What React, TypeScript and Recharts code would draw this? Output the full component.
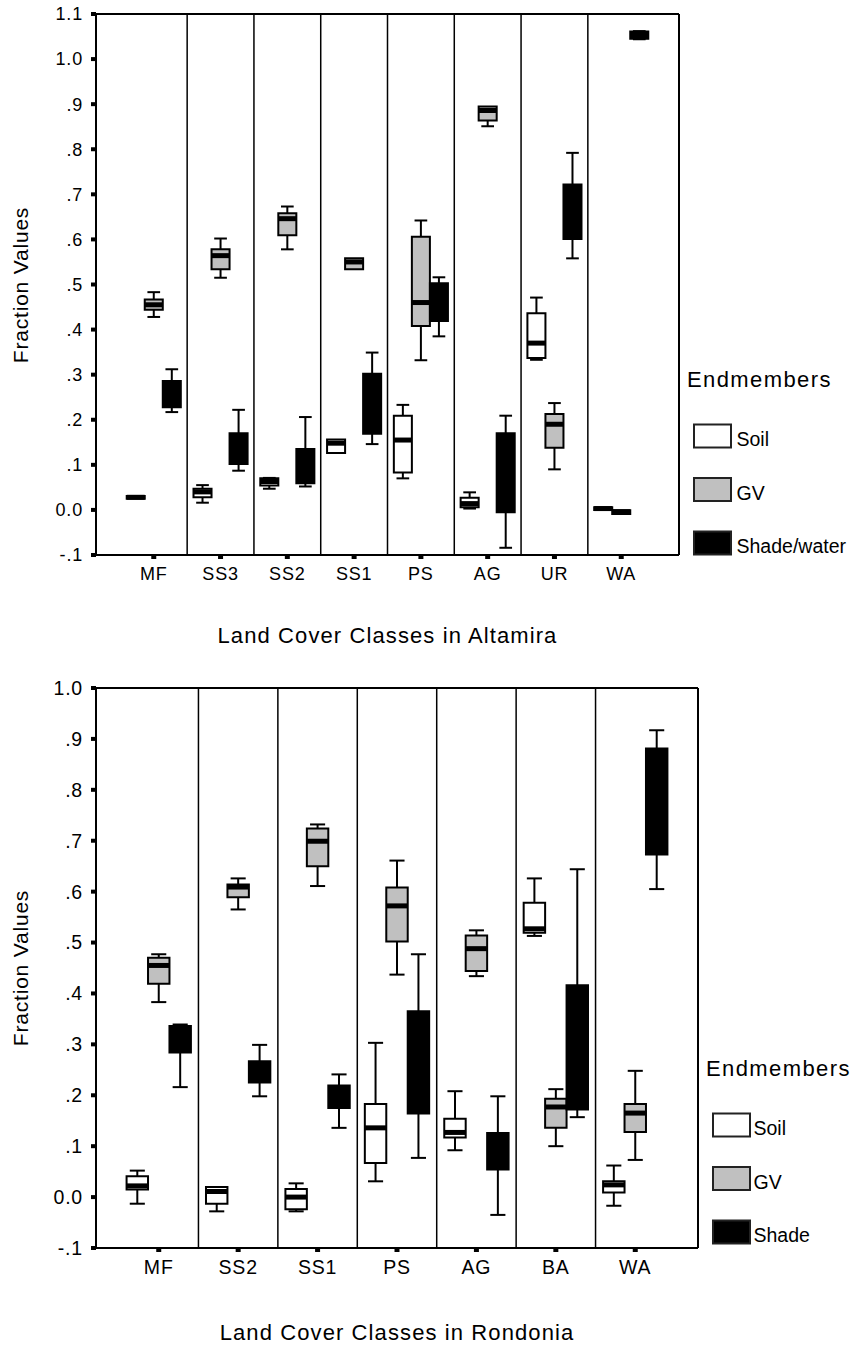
import React from 'react';
import { ComposedChart, XAxis, YAxis, ReferenceLine, ReferenceArea, Scatter } from 'recharts';

const FONT = '"Liberation Sans", Arial, Helvetica, sans-serif';

// ---------- DATA ----------
// each row: [min, q1, median, q3, max]
const altamiraClasses = ['MF', 'SS3', 'SS2', 'SS1', 'PS', 'AG', 'UR', 'WA'];
const altamiraSoil = [
  [0.026, 0.025, 0.028, 0.031, 0.031],
  [0.016, 0.028, 0.040, 0.047, 0.055],
  [0.047, 0.054, 0.063, 0.070, 0.071],
  [0.126, 0.126, 0.148, 0.156, 0.156],
  [0.070, 0.083, 0.155, 0.209, 0.233],
  [0.003, 0.006, 0.014, 0.027, 0.039],
  [0.333, 0.337, 0.370, 0.436, 0.471],
  [0.001, 0.000, 0.003, 0.006, 0.006],
];
const altamiraGV = [
  [0.428, 0.444, 0.455, 0.467, 0.483],
  [0.515, 0.534, 0.564, 0.578, 0.602],
  [0.578, 0.609, 0.646, 0.658, 0.673],
  [0.534, 0.534, 0.550, 0.558, 0.558],
  [0.332, 0.408, 0.460, 0.606, 0.642],
  [0.851, 0.864, 0.886, 0.895, 0.895],
  [0.090, 0.138, 0.190, 0.213, 0.237],
  [-0.008, -0.009, -0.004, -0.001, -0.001],
];
const altamiraShade = [
  [0.217, 0.228, 0.245, 0.286, 0.312],
  [0.087, 0.102, 0.130, 0.170, 0.222],
  [0.052, 0.059, 0.090, 0.135, 0.206],
  [0.146, 0.169, 0.230, 0.302, 0.349],
  [0.385, 0.419, 0.460, 0.503, 0.516],
  [-0.084, -0.005, 0.080, 0.170, 0.209],
  [0.558, 0.601, 0.660, 0.722, 0.792],
  [1.044, 1.045, 1.053, 1.061, 1.062],
];
const altamiraYTicks = [-0.1, 0, 0.1, 0.2, 0.3, 0.4, 0.5, 0.6, 0.7, 0.8, 0.9, 1.0, 1.1];
const altamiraLegend = ['Soil', 'GV', 'Shade/water'];

const rondoniaClasses = ['MF', 'SS2', 'SS1', 'PS', 'AG', 'BA', 'WA'];
const rondoniaSoil = [
  [-0.013, 0.015, 0.022, 0.041, 0.052],
  [-0.028, -0.013, 0.011, 0.020, 0.020],
  [-0.028, -0.024, 0.000, 0.016, 0.027],
  [0.031, 0.067, 0.136, 0.183, 0.303],
  [0.092, 0.117, 0.127, 0.154, 0.208],
  [0.513, 0.519, 0.527, 0.578, 0.626],
  [-0.017, 0.009, 0.024, 0.031, 0.062],
];
const rondoniaGV = [
  [0.383, 0.419, 0.455, 0.470, 0.477],
  [0.565, 0.589, 0.609, 0.614, 0.626],
  [0.611, 0.650, 0.699, 0.724, 0.732],
  [0.437, 0.502, 0.572, 0.608, 0.661],
  [0.434, 0.444, 0.488, 0.514, 0.524],
  [0.100, 0.136, 0.177, 0.193, 0.212],
  [0.073, 0.128, 0.165, 0.183, 0.248],
];
const rondoniaShade = [
  [0.216, 0.284, 0.320, 0.336, 0.339],
  [0.198, 0.225, 0.245, 0.267, 0.299],
  [0.136, 0.175, 0.200, 0.219, 0.241],
  [0.077, 0.164, 0.270, 0.365, 0.477],
  [-0.035, 0.054, 0.090, 0.126, 0.198],
  [0.157, 0.172, 0.300, 0.416, 0.644],
  [0.605, 0.673, 0.780, 0.881, 0.917],
];
const rondoniaYTicks = [-0.1, 0, 0.1, 0.2, 0.3, 0.4, 0.5, 0.6, 0.7, 0.8, 0.9, 1.0];
const rondoniaLegend = ['Soil', 'GV', 'Shade'];

// ---------- STYLE ----------
const FILLS = ['#ffffff', '#c0c0c0', '#000000'];
const OFFSETS = [-0.27, 0, 0.27];
const BOX_HALF = 0.135;
const CAP_HALF = 0.095;

function fmtTick(v: number): string {
  if (Math.abs(v) < 1e-9) return '0.0';
  const s = v.toFixed(1);
  if (Math.abs(v) >= 1) return s;
  return s.replace('0.', '.');
}

function boxElements(stats: number[][], offset: number, fill: string, key: string) {
  const els: React.ReactNode[] = [];
  stats.forEach((row, i) => {
    const [mn, q1, md, q3, mx] = row;
    const c = i + 1 + offset;
    const l = c - BOX_HALF;
    const r = c + BOX_HALF;
    const cl = c - CAP_HALF;
    const cr = c + CAP_HALF;
    const k = `${key}-${i}`;
    if (mx > q3) {
      els.push(
        <ReferenceLine key={`${k}-wu`} segment={[{ x: c, y: q3 }, { x: c, y: mx }]} stroke="#000" strokeWidth={2} ifOverflow="visible" />
      );
      els.push(
        <ReferenceLine key={`${k}-cu`} segment={[{ x: cl, y: mx }, { x: cr, y: mx }]} stroke="#000" strokeWidth={2} ifOverflow="visible" />
      );
    }
    if (mn < q1) {
      els.push(
        <ReferenceLine key={`${k}-wl`} segment={[{ x: c, y: mn }, { x: c, y: q1 }]} stroke="#000" strokeWidth={2} ifOverflow="visible" />
      );
      els.push(
        <ReferenceLine key={`${k}-cl`} segment={[{ x: cl, y: mn }, { x: cr, y: mn }]} stroke="#000" strokeWidth={2} ifOverflow="visible" />
      );
    }
    els.push(
      <ReferenceArea key={`${k}-box`} x1={l} x2={r} y1={q1} y2={q3} fill={fill} fillOpacity={1} stroke="#000" strokeWidth={2} strokeOpacity={1} ifOverflow="visible" />
    );
    els.push(
      <ReferenceLine key={`${k}-md`} segment={[{ x: l, y: md }, { x: r, y: md }]} stroke="#000" strokeWidth={5} ifOverflow="visible" />
    );
  });
  return els;
}

type PanelProps = {
  classes: string[];
  series: number[][][];
  yTicks: number[];
  top: number;
  width: number;
  height: number;
  margin: { top: number; right: number; bottom: number; left: number };
  pad: number;
  tickFont: number;
};

function Panel({ classes, series, yTicks, top, width, height, margin, pad, tickFont }: PanelProps) {
  const n = classes.length;
  const xMin = 0.5 - pad;
  const xMax = n + 0.5 + pad;
  const yMin = yTicks[0];
  const yMax = yTicks[yTicks.length - 1];
  const xTicks = classes.map((_, i) => i + 1);
  const medians = series.map((s, si) => s.map((row, i) => ({ x: i + 1 + OFFSETS[si], y: row[2] })));
  return (
    <div style={{ position: 'absolute', left: 0, top, width, height }}>
      <ComposedChart width={width} height={height} margin={margin}>
        <XAxis
          type="number"
          dataKey="x"
          domain={[xMin, xMax]}
          allowDataOverflow
          ticks={xTicks}
          interval={0}
          tickFormatter={(v: number) => classes[Math.round(v) - 1] ?? ''}
          axisLine={{ stroke: '#000', strokeWidth: 2 }}
          tickLine={{ stroke: '#000', strokeWidth: 5 }}
          tickSize={4}
          tickMargin={8}
          height={40}
          tick={{ fill: '#000', fontSize: tickFont, fontFamily: FONT, letterSpacing: 0.8 }}
        />
        <YAxis
          type="number"
          dataKey="y"
          domain={[yMin, yMax]}
          allowDataOverflow
          ticks={yTicks}
          interval={0}
          tickFormatter={fmtTick}
          width={96}
          axisLine={{ stroke: '#000', strokeWidth: 2 }}
          tickLine={{ stroke: '#000', strokeWidth: 4 }}
          tickSize={5}
          tickMargin={8}
          tick={{ fill: '#000', fontSize: tickFont, fontFamily: FONT, letterSpacing: 0.8 }}
        />
        <ReferenceLine y={yMax} stroke="#000" strokeWidth={2} ifOverflow="visible" />
        <ReferenceLine x={xMax} stroke="#000" strokeWidth={2} ifOverflow="visible" />
        {classes.slice(1).map((_, i) => (
          <ReferenceLine key={`sep-${i}`} x={i + 1.5} stroke="#000" strokeWidth={1.5} ifOverflow="visible" />
        ))}
        {series.map((s, si) => boxElements(s, OFFSETS[si], FILLS[si], `s${si}`))}
        {medians.map((m, si) => (
          <Scatter key={`med-${si}`} data={m} isAnimationActive={false} shape={() => <g />} />
        ))}
      </ComposedChart>
    </div>
  );
}

function Legend({ x, y, labels, labelX }: { x: number; y: number; labels: string[]; labelX: number }) {
  return (
    <g fontFamily={FONT} fill="#000">
      <text x={x} y={y} fontSize={22} letterSpacing={1.4}>Endmembers</text>
      {labels.map((lab, i) => {
        const top = y + 37.5 + i * 53.5;
        return (
          <g key={lab}>
            <rect x={x + 7} y={top} width={37} height={23} fill={FILLS[i]} stroke="#222" strokeWidth={2} />
            <text x={labelX} y={top + 21.5} fontSize={19.5}>{lab}</text>
          </g>
        );
      })}
    </g>
  );
}

export default function App() {
  return (
    <div style={{ position: 'absolute', left: 0, top: 0, width: 856, height: 1345, background: '#fff', fontFamily: FONT }}>
      <Panel
        classes={altamiraClasses}
        series={[altamiraSoil, altamiraGV, altamiraShade]}
        yTicks={altamiraYTicks}
        top={0}
        width={700}
        height={600}
        margin={{ top: 14, right: 21, bottom: 5, left: 0 }}
        pad={0.365}
        tickFont={18}
      />
      <Panel
        classes={rondoniaClasses}
        series={[rondoniaSoil, rondoniaGV, rondoniaShade]}
        yTicks={rondoniaYTicks}
        top={640}
        width={720}
        height={650}
        margin={{ top: 48, right: 22, bottom: 2, left: 0 }}
        pad={0.29}
        tickFont={19.5}
      />
      <svg width={856} height={1345} style={{ position: 'absolute', left: 0, top: 0, pointerEvents: 'none' }}>
        <g fontFamily={FONT} fill="#000">
          <text x={28} y={285} fontSize={21} textAnchor="middle" letterSpacing={0.8} transform="rotate(-90, 28, 285)">Fraction Values</text>
          <text x={28} y={968} fontSize={21} textAnchor="middle" letterSpacing={0.8} transform="rotate(-90, 28, 968)">Fraction Values</text>
          <text x={387.5} y={643} fontSize={22} textAnchor="middle" letterSpacing={1.1}>Land Cover Classes in Altamira</text>
          <text x={397} y={1339.5} fontSize={22} textAnchor="middle" letterSpacing={1.1}>Land Cover Classes in Rondonia</text>
        </g>
        <Legend x={687} y={387} labels={altamiraLegend} labelX={736.5} />
        <Legend x={706} y={1076} labels={rondoniaLegend} labelX={753.5} />
      </svg>
    </div>
  );
}
